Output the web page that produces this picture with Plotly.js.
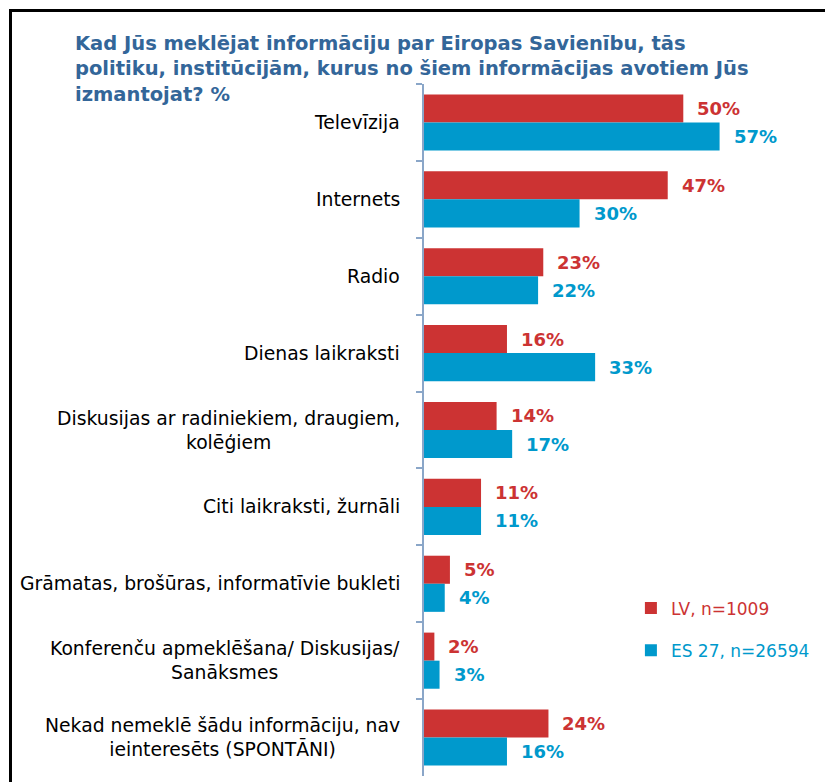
<!DOCTYPE html>
<html>
<head>
<meta charset="utf-8">
<script src="https://cdn.plot.ly/plotly-3.0.1.min.js"></script>
<style>
  html, body { margin: 0; padding: 0; background: #fff; overflow: hidden; }
  #graph { position: absolute; left: 0; top: 0; width: 825px; height: 782px; }
  #frame {
    position: absolute; left: 9px; top: 9px; width: 900px; height: 900px;
    border-left: 3px solid #000; border-top: 3px solid #000; pointer-events: none;
  }
</style>
</head>
<body>
<div id="graph"></div>
<div id="frame"></div>
<script>
const categories = [
  "Televīzija",
  "Internets",
  "Radio",
  "Dienas laikraksti",
  "Diskusijas ar radiniekiem, draugiem,<br>kolēģiem",
  "Citi laikraksti, žurnāli",
  "Grāmatas, brošūras, informatīvie bukleti",
  "Konferenču apmeklēšana/ Diskusijas/<br>Sanāksmes",
  "Nekad nemeklē šādu informāciju, nav<br>ieinteresēts (SPONTĀNI)",
];
const lvValues = [50, 47, 23, 16, 14, 11, 5, 2, 24];
const esValues = [57, 30, 22, 33, 17, 11, 4, 3, 16];
const seriesNames = ["LV, n=1009", "ES 27, n=26594"];

const red = "#cc3333";
const blue = "#0099cc";
const labelFont = "DejaVu Sans, Liberation Sans, Arial, sans-serif";

let data = [
  {
    type: "bar",
    orientation: "h",
    y: categories,
    x: lvValues,
    name: "<span style='color:" + red + "'>" + seriesNames[0] + "</span>",
    legendgroup: "lv",
    marker: { color: red },
    hoverinfo: "skip",
  },
  {
    type: "bar",
    orientation: "h",
    y: categories,
    x: esValues,
    name: "<span style='color:" + blue + "'>" + seriesNames[1] + "</span>",
    legendgroup: "es",
    marker: { color: blue },
    hoverinfo: "skip",
  },
];

let annotations = [];
categories.forEach((cat) => {
  // category label, centred lines, right edge left of the axis
  annotations.push({
    xref: "paper",
    yref: "y",
    x: 0,
    y: cat,
    xanchor: "right",
    yanchor: "middle",
    xshift: -22,
    align: "center",
    text: cat,
    showarrow: false,
    font: { family: labelFont, size: 18.8, color: "#000" },
  });
});

// value labels, placed on the bar ends through the axes
const groupHalf = 0.365;
categories.forEach((cat, i) => {
  annotations.push({
    xref: "x",
    yref: "y",
    x: lvValues[i],
    y: i - groupHalf / 2,
    xanchor: "left",
    yanchor: "middle",
    xshift: 12,
    text: "<b>" + lvValues[i] + "%</b>",
    showarrow: false,
    font: { family: labelFont, size: 18, color: red },
  });
  annotations.push({
    xref: "x",
    yref: "y",
    x: esValues[i],
    y: i + groupHalf / 2,
    xanchor: "left",
    yanchor: "middle",
    xshift: 12,
    text: "<b>" + esValues[i] + "%</b>",
    showarrow: false,
    font: { family: labelFont, size: 18, color: blue },
  });
});

let layout = {
  width: 825,
  height: 782,
  paper_bgcolor: "#fff",
  plot_bgcolor: "rgba(0,0,0,0)",
  margin: { l: 424, r: 38, t: 84, b: 6 },
  barmode: "group",
  bargap: 0.27,
  bargroupgap: 0,
  title: {
    text: "Kad Jūs meklējat informāciju par Eiropas Savienību, tās<br>politiku, institūcijām, kurus no šiem informācijas avotiem Jūs<br>izmantojat? %",
    xref: "container",
    yref: "container",
    x: 75 / 825,
    y: 1 - 50 / 782,
    xanchor: "left",
    yanchor: "top",
    font: { family: labelFont, size: 19.5, color: "#336699", weight: "bold" },
  },
  showlegend: true,
  legend: {
    x: 0.57,
    y: 0.268,
    xanchor: "left",
    yanchor: "top",
    traceorder: "grouped",
    tracegroupgap: 17,
    bgcolor: "rgba(0,0,0,0)",
    font: { family: labelFont, size: 17, color: "#000" },
    itemwidth: 30,
  },
  xaxis: {
    range: [0, 70],
    showgrid: false,
    zeroline: false,
    showline: false,
    showticklabels: false,
    ticks: "",
    fixedrange: true,
  },
  yaxis: {
    type: "category",
    autorange: "reversed",
    showgrid: false,
    zeroline: false,
    showline: true,
    linecolor: "#8aa6c8",
    linewidth: 2,
    ticks: "outside",
    tickson: "boundaries",
    ticklen: 6,
    tickwidth: 2,
    tickcolor: "#8aa6c8",
    showticklabels: false,
    fixedrange: true,
  },
  annotations: annotations,
};

let configuration = { displayModeBar: false, staticPlot: true };

Plotly.newPlot("graph", data, layout, configuration);
</script>
</body>
</html>
